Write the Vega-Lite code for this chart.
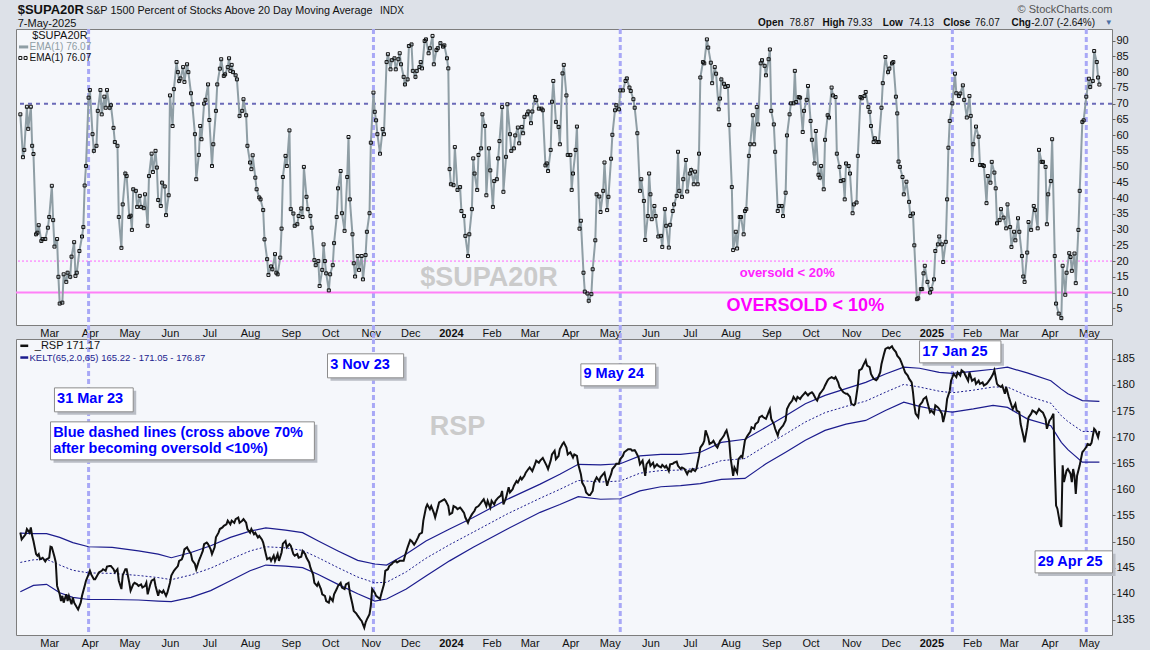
{
"$schema":"https://vega.github.io/schema/vega-lite/v6.json",
"background":"#dde1e8",
"padding":{"left":14,"top":3,"right":40,"bottom":20},
"spacing":14,
"bounds":"flush",
"config":{"font":"Liberation Sans","view":{"fill":"#f5f7fb","stroke":"#7d7d7d","strokeWidth":1},"axis":{"grid":false,"domain":false,"labelFontSize":11,"labelColor":"#111","tickColor":"#666"}},
"vconcat":[
{"width":1096,"height":296,
"data":{"format":{"parse":{"t":"date:'%Y-%j'"}},"values":[
{"t":"2023-38","v":66.6},{"t":"2023-40","v":53},{"t":"2023-41","v":55.3},{"t":"2023-43","v":69},{"t":"2023-44","v":62},{"t":"2023-46","v":69},{"t":"2023-47","v":56.6},{"t":"2023-48","v":54},{"t":"2023-50","v":28.5},{"t":"2023-51","v":29},{"t":"2023-52","v":31.4},{"t":"2023-54","v":26.4},{"t":"2023-55","v":27},{"t":"2023-57","v":27},{"t":"2023-59","v":30.6},{"t":"2023-60","v":34},{"t":"2023-62","v":43.9},{"t":"2023-63","v":33},{"t":"2023-64","v":24.6},{"t":"2023-66","v":27},{"t":"2023-67","v":15},{"t":"2023-68","v":6.5},{"t":"2023-70","v":6.8},{"t":"2023-71","v":15.8},{"t":"2023-73","v":13.4},{"t":"2023-74","v":16.3},{"t":"2023-76","v":15},{"t":"2023-77","v":21.4},{"t":"2023-79","v":26},{"t":"2023-80","v":15.3},{"t":"2023-81","v":16.3},{"t":"2023-83","v":23.2},{"t":"2023-85","v":27.8},{"t":"2023-86","v":30.8},{"t":"2023-87","v":44},{"t":"2023-88","v":50.2},{"t":"2023-90","v":71.9},{"t":"2023-91","v":74.3},{"t":"2023-93","v":60.3},{"t":"2023-94","v":55},{"t":"2023-96","v":56.6},{"t":"2023-97","v":67.7},{"t":"2023-99","v":74.3},{"t":"2023-100","v":66.6},{"t":"2023-102","v":72.2},{"t":"2023-103","v":68.7},{"t":"2023-104","v":74.3},{"t":"2023-106","v":68.7},{"t":"2023-107","v":69.5},{"t":"2023-109","v":62.3},{"t":"2023-110","v":57.8},{"t":"2023-112","v":56.6},{"t":"2023-113","v":34},{"t":"2023-115","v":24.2},{"t":"2023-116","v":38},{"t":"2023-118","v":47.8},{"t":"2023-119","v":47},{"t":"2023-121","v":34},{"t":"2023-122","v":34.4},{"t":"2023-123","v":29.9},{"t":"2023-124","v":42.8},{"t":"2023-126","v":42.3},{"t":"2023-127","v":37.2},{"t":"2023-129","v":40.7},{"t":"2023-130","v":37.2},{"t":"2023-132","v":36.8},{"t":"2023-133","v":41.2},{"t":"2023-135","v":31.2},{"t":"2023-136","v":47},{"t":"2023-138","v":54.1},{"t":"2023-139","v":48.3},{"t":"2023-141","v":55},{"t":"2023-142","v":49.7},{"t":"2023-143","v":39.4},{"t":"2023-145","v":37.5},{"t":"2023-146","v":44.9},{"t":"2023-148","v":43.7},{"t":"2023-149","v":34.6},{"t":"2023-151","v":40.9},{"t":"2023-152","v":72.6},{"t":"2023-154","v":62.9},{"t":"2023-155","v":74.6},{"t":"2023-157","v":83.2},{"t":"2023-158","v":80},{"t":"2023-159","v":77.2},{"t":"2023-160","v":78},{"t":"2023-162","v":81.6},{"t":"2023-163","v":76.9},{"t":"2023-165","v":82.5},{"t":"2023-166","v":80},{"t":"2023-168","v":73.3},{"t":"2023-169","v":69.8},{"t":"2023-171","v":60.3},{"t":"2023-172","v":46},{"t":"2023-174","v":53.7},{"t":"2023-175","v":62.9},{"t":"2023-176","v":58.7},{"t":"2023-178","v":70},{"t":"2023-179","v":71.2},{"t":"2023-181","v":76.1},{"t":"2023-182","v":64.8},{"t":"2023-184","v":50.2},{"t":"2023-185","v":57.1},{"t":"2023-187","v":67.7},{"t":"2023-188","v":76.1},{"t":"2023-190","v":81.1},{"t":"2023-191","v":84.1},{"t":"2023-193","v":78.8},{"t":"2023-194","v":79.3},{"t":"2023-196","v":81.6},{"t":"2023-197","v":84.4},{"t":"2023-198","v":80.4},{"t":"2023-199","v":82.3},{"t":"2023-200","v":80},{"t":"2023-202","v":79},{"t":"2023-203","v":77.7},{"t":"2023-205","v":66.1},{"t":"2023-207","v":67.7},{"t":"2023-208","v":71.4},{"t":"2023-210","v":66.3},{"t":"2023-211","v":56.6},{"t":"2023-213","v":51.3},{"t":"2023-214","v":49.2},{"t":"2023-215","v":53.6},{"t":"2023-217","v":46.5},{"t":"2023-218","v":42.8},{"t":"2023-220","v":40.2},{"t":"2023-221","v":39.6},{"t":"2023-223","v":36.2},{"t":"2023-224","v":26.9},{"t":"2023-226","v":20.6},{"t":"2023-227","v":15.6},{"t":"2023-229","v":18.3},{"t":"2023-230","v":17.4},{"t":"2023-232","v":22.2},{"t":"2023-233","v":16.3},{"t":"2023-234","v":15.8},{"t":"2023-236","v":21.1},{"t":"2023-237","v":30.3},{"t":"2023-238","v":46.7},{"t":"2023-240","v":53.4},{"t":"2023-241","v":50.2},{"t":"2023-243","v":61.5},{"t":"2023-244","v":36.5},{"t":"2023-246","v":35.1},{"t":"2023-247","v":31.2},{"t":"2023-249","v":31.7},{"t":"2023-250","v":34.3},{"t":"2023-252","v":36.7},{"t":"2023-253","v":34},{"t":"2023-254","v":49.9},{"t":"2023-256","v":40.4},{"t":"2023-257","v":36.5},{"t":"2023-259","v":34.3},{"t":"2023-260","v":30.6},{"t":"2023-262","v":20.3},{"t":"2023-263","v":18.7},{"t":"2023-265","v":20},{"t":"2023-266","v":12.1},{"t":"2023-268","v":17.2},{"t":"2023-269","v":25.3},{"t":"2023-270","v":20},{"t":"2023-271","v":16.1},{"t":"2023-273","v":10.7},{"t":"2023-274","v":15.8},{"t":"2023-276","v":18.7},{"t":"2023-277","v":25.7},{"t":"2023-279","v":34},{"t":"2023-280","v":43.1},{"t":"2023-282","v":48.6},{"t":"2023-283","v":35.2},{"t":"2023-285","v":29.6},{"t":"2023-287","v":46.7},{"t":"2023-288","v":59.4},{"t":"2023-289","v":39.6},{"t":"2023-291","v":28.5},{"t":"2023-292","v":19.3},{"t":"2023-293","v":15.1},{"t":"2023-295","v":21.6},{"t":"2023-296","v":17.2},{"t":"2023-298","v":21.6},{"t":"2023-299","v":14.2},{"t":"2023-301","v":21.9},{"t":"2023-302","v":29.3},{"t":"2023-304","v":35.2},{"t":"2023-305","v":57.6},{"t":"2023-307","v":73.5},{"t":"2023-308","v":67.4},{"t":"2023-309","v":64.7},{"t":"2023-310","v":60.3},
{"t":"2023-312","v":54.1},{"t":"2023-314","v":61.9},{"t":"2023-315","v":60.3},{"t":"2023-317","v":83.2},{"t":"2023-318","v":85.7},{"t":"2023-320","v":80.9},{"t":"2023-321","v":83.8},{"t":"2023-323","v":84.4},{"t":"2023-324","v":80.9},{"t":"2023-326","v":84.1},{"t":"2023-327","v":86},{"t":"2023-328","v":82.5},{"t":"2023-330","v":78.5},{"t":"2023-331","v":76.1},{"t":"2023-333","v":77.7},{"t":"2023-334","v":88.3},{"t":"2023-336","v":88.8},{"t":"2023-337","v":80.4},{"t":"2023-339","v":78.5},{"t":"2023-340","v":80.4},{"t":"2023-342","v":81.6},{"t":"2023-343","v":83.2},{"t":"2023-344","v":81.2},{"t":"2023-346","v":89.9},{"t":"2023-347","v":90.4},{"t":"2023-349","v":86},{"t":"2023-350","v":87.6},{"t":"2023-352","v":91.5},{"t":"2023-353","v":82.5},{"t":"2023-355","v":87},{"t":"2023-356","v":87.6},{"t":"2023-358","v":89.2},{"t":"2023-360","v":88.1},{"t":"2023-361","v":88.5},{"t":"2023-363","v":84.4},{"t":"2023-364","v":81.2},{"t":"2023-365","v":49.2},{"t":"2023-366","v":44.4},{"t":"2023-368","v":44.1},{"t":"2023-369","v":56.2},{"t":"2023-371","v":42.6},{"t":"2023-373","v":43.5},{"t":"2023-374","v":35.9},{"t":"2023-376","v":34.3},{"t":"2023-377","v":28},{"t":"2023-379","v":21.6},{"t":"2023-380","v":28.5},{"t":"2023-382","v":36.5},{"t":"2023-383","v":52.6},{"t":"2023-384","v":47.8},{"t":"2023-386","v":42.6},{"t":"2023-387","v":53.7},{"t":"2023-389","v":55.8},{"t":"2023-390","v":66.6},{"t":"2023-392","v":62.9},{"t":"2023-393","v":40.9},{"t":"2023-395","v":55.8},{"t":"2023-396","v":48.8},{"t":"2023-398","v":37.2},{"t":"2023-399","v":45.4},{"t":"2023-401","v":46},{"t":"2023-402","v":52.6},{"t":"2023-403","v":58.1},{"t":"2023-405","v":68.9},{"t":"2023-406","v":42},{"t":"2023-408","v":53.1},{"t":"2023-409","v":69.8},{"t":"2023-411","v":60.3},{"t":"2023-412","v":55},{"t":"2023-414","v":55.8},{"t":"2023-415","v":59.9},{"t":"2023-417","v":62.4},{"t":"2023-418","v":57.4},{"t":"2023-420","v":62.6},{"t":"2023-421","v":60.6},{"t":"2023-422","v":65.8},{"t":"2023-424","v":66.6},{"t":"2023-425","v":67.5},{"t":"2023-427","v":63.8},{"t":"2023-428","v":67.5},{"t":"2023-430","v":72.1},{"t":"2023-431","v":71.1},{"t":"2023-433","v":68.4},{"t":"2023-435","v":68.4},{"t":"2023-436","v":67.9},{"t":"2023-438","v":50.4},{"t":"2023-439","v":51},{"t":"2023-440","v":48.6},{"t":"2023-442","v":55.3},{"t":"2023-443","v":70.6},{"t":"2023-444","v":77.2},{"t":"2023-446","v":64.2},{"t":"2023-448","v":62.6},{"t":"2023-449","v":57.1},{"t":"2023-451","v":79.6},{"t":"2023-452","v":82.3},{"t":"2023-454","v":72.6},{"t":"2023-455","v":53.7},{"t":"2023-457","v":53.7},{"t":"2023-458","v":42.6},{"t":"2023-459","v":47.8},{"t":"2023-461","v":55.3},{"t":"2023-462","v":62.7},{"t":"2023-464","v":30.3},{"t":"2023-465","v":32.8},{"t":"2023-467","v":16.3},{"t":"2023-468","v":10.3},{"t":"2023-470","v":9.7},{"t":"2023-471","v":7.4},{"t":"2023-473","v":9.5},{"t":"2023-474","v":17.4},{"t":"2023-476","v":26.6},{"t":"2023-477","v":41.2},{"t":"2023-479","v":40.5},{"t":"2023-480","v":35.6},{"t":"2023-482","v":42.3},{"t":"2023-483","v":51.3},{"t":"2023-485","v":36.2},{"t":"2023-486","v":40.4},{"t":"2023-488","v":52.5},{"t":"2023-489","v":60.1},{"t":"2023-491","v":67.9},{"t":"2023-492","v":69.5},{"t":"2023-494","v":68.2},{"t":"2023-495","v":74.2},{"t":"2023-497","v":74.2},{"t":"2023-499","v":77.2},{"t":"2023-500","v":78},{"t":"2023-502","v":75.1},{"t":"2023-503","v":74},{"t":"2023-505","v":71.4},{"t":"2023-506","v":68.7},{"t":"2023-508","v":60.6},{"t":"2023-510","v":42.3},{"t":"2023-511","v":46},{"t":"2023-513","v":39.1},{"t":"2023-514","v":26.7},{"t":"2023-516","v":34.3},{"t":"2023-517","v":47.8},{"t":"2023-518","v":41.2},{"t":"2023-519","v":33.3},{"t":"2023-521","v":37.5},{"t":"2023-522","v":34.3},{"t":"2023-524","v":27.8},{"t":"2023-526","v":28},{"t":"2023-527","v":24.5},{"t":"2023-529","v":36.5},{"t":"2023-530","v":31.2},{"t":"2023-532","v":24.3},{"t":"2023-533","v":31.5},{"t":"2023-535","v":35.9},{"t":"2023-536","v":38},{"t":"2023-538","v":40.7},{"t":"2023-539","v":54.7},{"t":"2023-540","v":42.3},{"t":"2023-542","v":40.4},{"t":"2023-543","v":46},{"t":"2023-545","v":52.1},{"t":"2023-546","v":42.1},{"t":"2023-548","v":47.8},{"t":"2023-549","v":48.9},{"t":"2023-551","v":44.4},{"t":"2023-552","v":48.4},{"t":"2023-554","v":44.4},{"t":"2023-555","v":54.1},{"t":"2023-556","v":78.3},{"t":"2023-558","v":83.2},{"t":"2023-559","v":82.8},{"t":"2023-561","v":90.4},{"t":"2023-562","v":87.8},{"t":"2023-564","v":83},{"t":"2023-565","v":76.5},{"t":"2023-567","v":81.6},{"t":"2023-568","v":79.5},{"t":"2023-570","v":68.2},{"t":"2023-571","v":71.6},{"t":"2023-572","v":77.7},{"t":"2023-574","v":76.3},{"t":"2023-575","v":75.3},{"t":"2023-577","v":75.6},{"t":"2023-578","v":63.2},{"t":"2023-580","v":43.5},{"t":"2023-581","v":23.5},{"t":"2023-583","v":29.3},{"t":"2023-584","v":24},{"t":"2023-586","v":34},{"t":"2023-587","v":34},{"t":"2023-589","v":28.5},
{"t":"2023-590","v":35.9},{"t":"2023-591","v":36.5},{"t":"2023-593","v":53.4},{"t":"2023-594","v":57.1},{"t":"2023-596","v":66.3},{"t":"2023-597","v":57.1},{"t":"2023-599","v":68.9},{"t":"2023-600","v":63.4},{"t":"2023-602","v":82.8},{"t":"2023-603","v":83.8},{"t":"2023-605","v":82},{"t":"2023-606","v":79},{"t":"2023-608","v":84.1},{"t":"2023-609","v":87.2},{"t":"2023-610","v":67.7},{"t":"2023-612","v":63.4},{"t":"2023-613","v":54.7},{"t":"2023-615","v":35.9},{"t":"2023-616","v":37.5},{"t":"2023-618","v":37.5},{"t":"2023-619","v":34.3},{"t":"2023-621","v":41.7},{"t":"2023-622","v":59.9},{"t":"2023-624","v":66.6},{"t":"2023-625","v":70.1},{"t":"2023-627","v":70.1},{"t":"2023-628","v":80.4},{"t":"2023-629","v":70.5},{"t":"2023-631","v":72.1},{"t":"2023-632","v":71.9},{"t":"2023-634","v":61},{"t":"2023-635","v":67.7},{"t":"2023-637","v":71.2},{"t":"2023-638","v":75.6},{"t":"2023-640","v":64.5},{"t":"2023-641","v":58.5},{"t":"2023-643","v":51},{"t":"2023-644","v":61.3},{"t":"2023-646","v":47.4},{"t":"2023-647","v":46.5},{"t":"2023-648","v":50.2},{"t":"2023-650","v":42.8},{"t":"2023-651","v":58.5},{"t":"2023-653","v":66.3},{"t":"2023-654","v":65.6},{"t":"2023-656","v":75.1},{"t":"2023-657","v":72.6},{"t":"2023-659","v":72.1},{"t":"2023-660","v":54.1},{"t":"2023-662","v":49.9},{"t":"2023-663","v":45.4},{"t":"2023-665","v":45.7},{"t":"2023-666","v":39.6},{"t":"2023-667","v":51},{"t":"2023-669","v":50.2},{"t":"2023-670","v":47.8},{"t":"2023-672","v":35.2},{"t":"2023-673","v":38},{"t":"2023-675","v":38.6},{"t":"2023-676","v":53.4},{"t":"2023-678","v":72.1},{"t":"2023-679","v":71.7},{"t":"2023-681","v":72.4},{"t":"2023-682","v":73.7},{"t":"2023-684","v":68.9},{"t":"2023-685","v":67.4},{"t":"2023-686","v":62.9},{"t":"2023-688","v":57.8},{"t":"2023-689","v":59},{"t":"2023-691","v":57.8},{"t":"2023-692","v":57.8},{"t":"2023-694","v":68.7},{"t":"2023-695","v":76.5},{"t":"2023-697","v":84.8},{"t":"2023-699","v":80},{"t":"2023-700","v":81.1},{"t":"2023-702","v":82.8},{"t":"2023-703","v":83.2},{"t":"2023-705","v":72.2},{"t":"2023-706","v":66.9},{"t":"2023-707","v":51.6},{"t":"2023-708","v":49.9},{"t":"2023-710","v":46.7},{"t":"2023-711","v":41.2},{"t":"2023-713","v":45.2},{"t":"2023-715","v":38.8},{"t":"2023-716","v":34.3},{"t":"2023-718","v":35.1},{"t":"2023-719","v":25},{"t":"2023-721","v":7.9},{"t":"2023-722","v":8.2},{"t":"2023-724","v":11.1},{"t":"2023-725","v":11.1},{"t":"2023-726","v":16.1},{"t":"2023-727","v":18.5},{"t":"2023-729","v":13.4},{"t":"2023-731","v":10},{"t":"2023-732","v":11.1},{"t":"2023-734","v":14.2},{"t":"2023-735","v":23.2},{"t":"2023-737","v":25.3},{"t":"2023-738","v":27.8},{"t":"2023-740","v":25.3},{"t":"2023-741","v":19.7},{"t":"2023-743","v":26.1},{"t":"2023-744","v":39.6},{"t":"2023-745","v":56},{"t":"2023-746","v":64.5},{"t":"2023-748","v":70.1},{"t":"2023-750","v":79.5},{"t":"2023-751","v":73.3},{"t":"2023-753","v":72.4},{"t":"2023-754","v":73.2},{"t":"2023-756","v":75.8},{"t":"2023-757","v":71.2},{"t":"2023-759","v":65.6},{"t":"2023-761","v":72.4},{"t":"2023-762","v":66.1},{"t":"2023-763","v":52.1},{"t":"2023-764","v":57.1},{"t":"2023-766","v":62.7},{"t":"2023-768","v":59.5},{"t":"2023-769","v":50.5},{"t":"2023-771","v":50.5},{"t":"2023-772","v":50.2},{"t":"2023-774","v":38.4},{"t":"2023-775","v":47},{"t":"2023-777","v":44.9},{"t":"2023-778","v":51.5},{"t":"2023-780","v":48.1},{"t":"2023-781","v":43.1},{"t":"2023-782","v":32},{"t":"2023-784","v":33},{"t":"2023-785","v":36.5},{"t":"2023-787","v":33.8},{"t":"2023-789","v":30.4},{"t":"2023-790","v":38},{"t":"2023-792","v":30.8},{"t":"2023-793","v":24.5},{"t":"2023-795","v":29.3},{"t":"2023-796","v":26.6},{"t":"2023-798","v":33.6},{"t":"2023-799","v":29.3},{"t":"2023-801","v":21.6},{"t":"2023-802","v":15.1},{"t":"2023-803","v":13.4},{"t":"2023-805","v":22.7},{"t":"2023-806","v":32.4},{"t":"2023-808","v":29.9},{"t":"2023-810","v":37.5},{"t":"2023-811","v":36.2},{"t":"2023-813","v":30.4},{"t":"2023-814","v":55.3},{"t":"2023-816","v":51.5},{"t":"2023-817","v":51.5},{"t":"2023-819","v":49.9},{"t":"2023-820","v":31.7},{"t":"2023-821","v":41.2},{"t":"2023-823","v":45.4},{"t":"2023-824","v":58.7},{"t":"2023-826","v":21.6},{"t":"2023-827","v":6.5},{"t":"2023-829","v":3.3},{"t":"2023-831","v":1.9},{"t":"2023-832","v":18.5},{"t":"2023-834","v":9.3},{"t":"2023-835","v":16.3},{"t":"2023-837","v":22.5},{"t":"2023-838","v":21.3},{"t":"2023-839","v":16.9},{"t":"2023-841","v":22.4},{"t":"2023-842","v":13},{"t":"2023-844","v":29.9},{"t":"2023-845","v":42.3},{"t":"2023-847","v":64.2},{"t":"2023-848","v":64.7},{"t":"2023-850","v":72.2},{"t":"2023-852","v":77.9},{"t":"2023-853","v":75.3},{"t":"2023-855","v":77.2},{"t":"2023-856","v":86.7},{"t":"2023-858","v":83.2},{"t":"2023-859","v":78.3},{"t":"2023-860","v":76.07}
]},
"layer":[
{"data":{"values":[{}]},"mark":{"type":"rule","color":"#a8a8f6","strokeWidth":3,"strokeDash":[5,3]},"encoding":{"x":{"datum":{"year":2023,"month":3,"date":31},"type":"temporal"},"y":{"datum":93.7,"type":"quantitative"},"y2":{"datum":-4.7}}},
{"data":{"values":[{}]},"mark":{"type":"rule","color":"#a8a8f6","strokeWidth":3,"strokeDash":[5,3]},"encoding":{"x":{"datum":{"year":2023,"month":11,"date":3},"type":"temporal"},"y":{"datum":93.7,"type":"quantitative"},"y2":{"datum":-4.7}}},
{"data":{"values":[{}]},"mark":{"type":"rule","color":"#a8a8f6","strokeWidth":3,"strokeDash":[5,3]},"encoding":{"x":{"datum":{"year":2024,"month":5,"date":9},"type":"temporal"},"y":{"datum":93.7,"type":"quantitative"},"y2":{"datum":-4.7}}},
{"data":{"values":[{}]},"mark":{"type":"rule","color":"#a8a8f6","strokeWidth":3,"strokeDash":[5,3]},"encoding":{"x":{"datum":{"year":2025,"month":1,"date":17},"type":"temporal"},"y":{"datum":93.7,"type":"quantitative"},"y2":{"datum":-4.7}}},
{"data":{"values":[{}]},"mark":{"type":"rule","color":"#a8a8f6","strokeWidth":3,"strokeDash":[5,3]},"encoding":{"x":{"datum":{"year":2025,"month":4,"date":29},"type":"temporal"},"y":{"datum":93.7,"type":"quantitative"},"y2":{"datum":-4.7}}},
{"data":{"values":[{}]},"mark":{"type":"rule","color":"#6a6ab8","strokeWidth":2,"strokeDash":[4,4]},"encoding":{"y":{"datum":70,"type":"quantitative"}}},
{"data":{"values":[{}]},"mark":{"type":"rule","color":"#ff66ff","strokeWidth":1,"strokeDash":[2,2]},"encoding":{"y":{"datum":20,"type":"quantitative"}}},
{"data":{"values":[{}]},"mark":{"type":"rule","color":"#ff80f8","strokeWidth":2},"encoding":{"y":{"datum":10,"type":"quantitative"}}},
{"data":{"format":{"parse":{"t":"date:'%Y-%j'"}},"values":[{"t":"2023-395","v":14.5,"s":"$SUPA20R"}]},
 "mark":{"type":"text","fontSize":27,"fontWeight":"bold","color":"#cbcbcb","align":"center","baseline":"middle"},
 "encoding":{"x":{"field":"t","type":"temporal"},"y":{"field":"v","type":"quantitative"},"text":{"field":"s"}}},
{"data":{"format":{"parse":{"t":"date:'%Y-%j'"}},"values":[{"t":"2023-586","v":16.2,"s":"oversold < 20%"}]},
 "mark":{"type":"text","fontSize":13,"fontWeight":"bold","color":"#ff22ff","align":"left","baseline":"middle"},
 "encoding":{"x":{"field":"t","type":"temporal"},"y":{"field":"v","type":"quantitative"},"text":{"field":"s"}}},
{"data":{"format":{"parse":{"t":"date:'%Y-%j'"}},"values":[{"t":"2023-576","v":5.8,"s":"OVERSOLD < 10%"}]},
 "mark":{"type":"text","fontSize":18,"fontWeight":"bold","color":"#ff00ff","align":"left","baseline":"middle"},
 "encoding":{"x":{"field":"t","type":"temporal"},"y":{"field":"v","type":"quantitative"},"text":{"field":"s"}}},
{"mark":{"type":"line","color":"#8f9ea5","strokeWidth":2},
 "encoding":{
  "x":{"field":"t","type":"temporal","scale":{"domain":[{"year":2023,"month":2,"date":3,"hours":16,"minutes":48},{"year":2025,"month":5,"date":18,"hours":14,"minutes":24}]},
   "axis":{"orient":"bottom","title":null,"ticks":false,"domain":false,"labelPadding":2,"tickCount":{"interval":"month","step":1},"labelExpr":"month(datum.value)==0 ? timeFormat(datum.value,'%Y') : timeFormat(datum.value,'%b')","labelFontWeight":{"condition":{"test":"month(datum.value)==0","value":"bold"},"value":"normal"},"labelOverlap":false,"labelFlush":false,"labelBound":false}},
  "y":{"field":"v","type":"quantitative","scale":{"domain":[-0.3,93.7],"nice":false,"zero":false},
   "axis":{"orient":"right","title":null,"values":[5,10,15,20,25,30,35,40,45,50,55,60,65,70,75,80,85,90],"tickCount":40,"labelOverlap":false,"labelBound":false,"labelFlush":false,"tickSize":3,"labelPadding":1,"domain":false}}}},
{"mark":{"type":"point","shape":"square","size":9,"filled":false,"stroke":"#111","strokeWidth":1,"opacity":1},
 "encoding":{"x":{"field":"t","type":"temporal"},"y":{"field":"v","type":"quantitative"}}},
{"data":{"format":{"parse":{"t":"date:'%Y-%j'","t2":"date:'%Y-%j'"}},"values":[{"t":"2023-37","t2":"2023-44","v":88}]},
 "mark":{"type":"rule","color":"#8f9ea5","strokeWidth":3},
 "encoding":{"x":{"field":"t","type":"temporal"},"x2":{"field":"t2"},"y":{"field":"v","type":"quantitative"}}},
{"data":{"format":{"parse":{"t":"date:'%Y-%j'"}},"values":[{"t":"2023-38","v":84.5},{"t":"2023-42","v":84.5}]},
 "mark":{"type":"point","shape":"square","size":9,"filled":false,"stroke":"#111","strokeWidth":1,"opacity":1},
 "encoding":{"x":{"field":"t","type":"temporal"},"y":{"field":"v","type":"quantitative"}}},
{"data":{"format":{"parse":{"t":"date:'%Y-%j'"}},"values":[{"t":"2023-47","v":91.5,"s":"$SUPA20R"}]},
 "mark":{"type":"text","fontSize":11,"color":"#111","align":"left","baseline":"middle"},
 "encoding":{"x":{"field":"t","type":"temporal"},"y":{"field":"v","type":"quantitative"},"text":{"field":"s"}}},
{"data":{"format":{"parse":{"t":"date:'%Y-%j'"}},"values":[{"t":"2023-45","v":88,"s":"EMA(1) 76.07"}]},
 "mark":{"type":"text","fontSize":10,"color":"#8f9ea5","align":"left","baseline":"middle"},
 "encoding":{"x":{"field":"t","type":"temporal"},"y":{"field":"v","type":"quantitative"},"text":{"field":"s"}}},
{"data":{"format":{"parse":{"t":"date:'%Y-%j'"}},"values":[{"t":"2023-45","v":84.5,"s":"EMA(1) 76.07"}]},
 "mark":{"type":"text","fontSize":10,"color":"#111","align":"left","baseline":"middle"},
 "encoding":{"x":{"field":"t","type":"temporal"},"y":{"field":"v","type":"quantitative"},"text":{"field":"s"}}},
{"data":{"format":{"parse":{"t":"date:'%Y-%j'"}},"values":[{"t":"2023-36","v":99.6,"s":"$SUPA20R"}]},
 "mark":{"type":"text","fontSize":13,"fontWeight":"bold","color":"#111","align":"left","baseline":"middle"},
 "encoding":{"x":{"field":"t","type":"temporal"},"y":{"field":"v","type":"quantitative"},"text":{"field":"s"}}},
{"data":{"format":{"parse":{"t":"date:'%Y-%j'"}},"values":[{"t":"2023-88","v":99.4,"s":"S&P 1500 Percent of Stocks Above 20 Day Moving Average"}]},
 "mark":{"type":"text","fontSize":10.8,"color":"#111","align":"left","baseline":"middle"},
 "encoding":{"x":{"field":"t","type":"temporal"},"y":{"field":"v","type":"quantitative"},"text":{"field":"s"}}},
{"data":{"format":{"parse":{"t":"date:'%Y-%j'"}},"values":[{"t":"2023-36","v":95.3,"s":"7-May-2025"}]},
 "mark":{"type":"text","fontSize":11,"color":"#111","align":"left","baseline":"middle"},
 "encoding":{"x":{"field":"t","type":"temporal"},"y":{"field":"v","type":"quantitative"},"text":{"field":"s"}}},
{"data":{"format":{"parse":{"t":"date:'%Y-%j'"}},"values":[{"t":"2023-624","v":95.6,"s":"78.87"},{"t":"2023-668","v":95.6,"s":"79.33"},{"t":"2023-715","v":95.6,"s":"74.13"},{"t":"2023-765","v":95.6,"s":"76.07"},{"t":"2023-808","v":95.6,"s":"-2.07 (-2.64%)"}]},
 "mark":{"type":"text","fontSize":10,"color":"#111","align":"left","baseline":"middle"},
 "encoding":{"x":{"field":"t","type":"temporal"},"y":{"field":"v","type":"quantitative"},"text":{"field":"s"}}},
{"data":{"format":{"parse":{"t":"date:'%Y-%j'"}},"values":[{"t":"2023-600","v":95.6,"s":"Open"},{"t":"2023-649","v":95.6,"s":"High"},{"t":"2023-695","v":95.6,"s":"Low"},{"t":"2023-741","v":95.6,"s":"Close"},{"t":"2023-793","v":95.6,"s":"Chg"}]},
 "mark":{"type":"text","fontSize":10,"fontWeight":"bold","color":"#111","align":"left","baseline":"middle"},
 "encoding":{"x":{"field":"t","type":"temporal"},"y":{"field":"v","type":"quantitative"},"text":{"field":"s"}}},
{"data":{"format":{"parse":{"t":"date:'%Y-%j'"}},"values":[{"t":"2023-312","v":99.4,"s":"INDX"}]},
 "mark":{"type":"text","fontSize":10,"color":"#111","align":"left","baseline":"middle"},
 "encoding":{"x":{"field":"t","type":"temporal"},"y":{"field":"v","type":"quantitative"},"text":{"field":"s"}}},
{"data":{"format":{"parse":{"t":"date:'%Y-%j'"}},"values":[{"t":"2023-870","v":99.6,"s":"© StockCharts.com"}]},
 "mark":{"type":"text","fontSize":11,"color":"#555","align":"right","baseline":"middle"},
 "encoding":{"x":{"field":"t","type":"temporal"},"y":{"field":"v","type":"quantitative"},"text":{"field":"s"}}},
{"data":{"format":{"parse":{"t":"date:'%Y-%j'"}},"values":[{"t":"2023-867","v":95.6,"s":"▼"}]},
 "mark":{"type":"text","fontSize":8,"color":"#4a6fa5","align":"center","baseline":"middle"},
 "encoding":{"x":{"field":"t","type":"temporal"},"y":{"field":"v","type":"quantitative"},"text":{"field":"s"}}}
]},
{"width":1096,"height":296,
"data":{"format":{"parse":{"t":"date:'%Y-%j'"}},"values":[
{"t":"2023-38","v":151.7},{"t":"2023-39","v":150.4},{"t":"2023-42","v":151.4},{"t":"2023-43","v":152.4},{"t":"2023-45","v":151.7},{"t":"2023-46","v":152.7},{"t":"2023-47","v":151.1},{"t":"2023-48","v":150.1},{"t":"2023-50","v":147.6},{"t":"2023-51","v":147.3},{"t":"2023-52","v":147.6},{"t":"2023-53","v":146.6},{"t":"2023-55","v":146.9},{"t":"2023-57","v":146.2},{"t":"2023-58","v":146.6},{"t":"2023-60","v":146.9},{"t":"2023-61","v":149},{"t":"2023-62","v":148.9},{"t":"2023-64","v":147.1},{"t":"2023-65","v":146},{"t":"2023-66","v":141.5},{"t":"2023-68","v":139.9},{"t":"2023-69","v":138.6},{"t":"2023-70","v":139.6},{"t":"2023-71","v":138.3},{"t":"2023-73","v":139.9},{"t":"2023-74","v":138.6},{"t":"2023-75","v":139.6},{"t":"2023-77","v":138},{"t":"2023-78","v":139.3},{"t":"2023-79","v":138.3},{"t":"2023-81","v":137.4},{"t":"2023-82","v":137},{"t":"2023-84","v":138.3},{"t":"2023-85","v":139.6},{"t":"2023-87","v":141.5},{"t":"2023-88","v":142.5},{"t":"2023-90","v":143.7},{"t":"2023-91","v":144.4},{"t":"2023-92","v":143.7},{"t":"2023-94","v":142.8},{"t":"2023-95","v":142.8},{"t":"2023-97","v":143.7},{"t":"2023-98","v":144.1},{"t":"2023-100","v":144.4},{"t":"2023-101","v":144.7},{"t":"2023-103","v":144.4},{"t":"2023-104","v":145.2},{"t":"2023-106","v":145.3},{"t":"2023-107","v":145.3},{"t":"2023-109","v":144.7},{"t":"2023-110","v":144.1},{"t":"2023-112","v":144.7},{"t":"2023-113","v":142.5},{"t":"2023-115","v":140.9},{"t":"2023-116","v":143.5},{"t":"2023-118","v":144.7},{"t":"2023-119","v":144.7},{"t":"2023-121","v":142.1},{"t":"2023-122","v":140.6},{"t":"2023-124","v":141.8},{"t":"2023-125","v":142.1},{"t":"2023-127","v":141.8},{"t":"2023-128","v":141.5},{"t":"2023-130","v":141.8},{"t":"2023-131","v":141.2},{"t":"2023-133","v":141.5},{"t":"2023-134","v":142.1},{"t":"2023-135","v":139.9},{"t":"2023-137","v":141.8},{"t":"2023-138","v":142.5},{"t":"2023-140","v":142.8},{"t":"2023-141","v":141.5},{"t":"2023-143","v":139.6},{"t":"2023-144","v":140.6},{"t":"2023-146","v":140.2},{"t":"2023-147","v":140.6},{"t":"2023-149","v":139.6},{"t":"2023-150","v":140.2},{"t":"2023-152","v":142.1},{"t":"2023-153","v":143.5},{"t":"2023-155","v":144.4},{"t":"2023-156","v":144.7},{"t":"2023-158","v":145.3},{"t":"2023-159","v":146.3},{"t":"2023-161","v":146.6},{"t":"2023-162","v":147.3},{"t":"2023-163","v":148.5},{"t":"2023-165","v":148.9},{"t":"2023-166","v":148.4},{"t":"2023-168","v":147.6},{"t":"2023-169","v":146.4},{"t":"2023-171","v":145.7},{"t":"2023-172","v":144.7},{"t":"2023-174","v":146.3},{"t":"2023-175","v":146.9},{"t":"2023-177","v":148.2},{"t":"2023-178","v":149.5},{"t":"2023-180","v":149.8},{"t":"2023-181","v":149.5},{"t":"2023-183","v":148.5},{"t":"2023-184","v":147.6},{"t":"2023-186","v":148.9},{"t":"2023-187","v":150.8},{"t":"2023-189","v":151.7},{"t":"2023-190","v":152.4},{"t":"2023-192","v":152.7},{"t":"2023-193","v":153},{"t":"2023-195","v":153.3},{"t":"2023-196","v":154},{"t":"2023-198","v":153.3},{"t":"2023-199","v":154},{"t":"2023-201","v":153.6},{"t":"2023-202","v":154.3},{"t":"2023-204","v":154.6},{"t":"2023-205","v":153.6},{"t":"2023-207","v":154},{"t":"2023-208","v":154.3},{"t":"2023-210","v":153.6},{"t":"2023-211","v":152.4},{"t":"2023-213","v":151.7},{"t":"2023-214","v":152.4},{"t":"2023-216","v":151.4},{"t":"2023-217","v":151.7},{"t":"2023-219","v":150.8},{"t":"2023-220","v":151.1},{"t":"2023-222","v":150.4},{"t":"2023-223","v":149.8},{"t":"2023-225","v":147.6},{"t":"2023-226","v":146.6},{"t":"2023-228","v":146.9},{"t":"2023-229","v":146.3},{"t":"2023-231","v":147.3},{"t":"2023-232","v":146.3},{"t":"2023-234","v":147.6},{"t":"2023-235","v":146.3},{"t":"2023-237","v":147.9},{"t":"2023-238","v":149.6},{"t":"2023-240","v":150.1},{"t":"2023-241","v":148.9},{"t":"2023-243","v":149.5},{"t":"2023-244","v":149.2},{"t":"2023-246","v":147.6},{"t":"2023-247","v":147.3},{"t":"2023-249","v":147.6},{"t":"2023-250","v":146.9},{"t":"2023-252","v":147.1},{"t":"2023-253","v":148.2},{"t":"2023-255","v":147.6},{"t":"2023-256","v":146.9},{"t":"2023-258","v":146},{"t":"2023-259","v":145},{"t":"2023-261","v":143.7},{"t":"2023-262","v":142.1},{"t":"2023-264","v":141.5},{"t":"2023-265","v":142.1},{"t":"2023-267","v":140.9},{"t":"2023-268","v":139.9},{"t":"2023-270","v":139.6},{"t":"2023-271","v":138.6},{"t":"2023-273","v":138.3},{"t":"2023-274","v":139.3},{"t":"2023-276","v":138.6},{"t":"2023-277","v":139.9},{"t":"2023-279","v":140.9},{"t":"2023-280","v":141.5},{"t":"2023-282","v":142.1},{"t":"2023-283","v":141.2},{"t":"2023-285","v":140.9},{"t":"2023-286","v":141.8},{"t":"2023-288","v":142.1},{"t":"2023-289","v":140.2},{"t":"2023-291","v":138},{"t":"2023-292","v":136.7},{"t":"2023-294","v":136.2},{"t":"2023-295","v":135.8},{"t":"2023-297","v":135.1},{"t":"2023-298","v":134.8},{"t":"2023-300","v":133.5},{"t":"2023-301","v":134.5},{"t":"2023-302","v":135.1},{"t":"2023-304","v":136.1},{"t":"2023-305","v":137.7},{"t":"2023-306","v":140.9},{"t":"2023-308","v":140.2},{"t":"2023-309","v":139.6},
{"t":"2023-312","v":139},{"t":"2023-313","v":140},{"t":"2023-315","v":141.8},{"t":"2023-316","v":144.4},{"t":"2023-318","v":144.7},{"t":"2023-319","v":145.3},{"t":"2023-321","v":145.7},{"t":"2023-322","v":146},{"t":"2023-324","v":146.3},{"t":"2023-325","v":146},{"t":"2023-327","v":146.3},{"t":"2023-328","v":146.3},{"t":"2023-330","v":146.3},{"t":"2023-331","v":147.3},{"t":"2023-333","v":148.9},{"t":"2023-335","v":150.3},{"t":"2023-336","v":150.1},{"t":"2023-338","v":149.4},{"t":"2023-339","v":149.8},{"t":"2023-341","v":150.8},{"t":"2023-342","v":151.4},{"t":"2023-344","v":151.7},{"t":"2023-345","v":154},{"t":"2023-347","v":156.5},{"t":"2023-348","v":157.1},{"t":"2023-350","v":156.2},{"t":"2023-351","v":156.8},{"t":"2023-353","v":155.5},{"t":"2023-354","v":154.6},{"t":"2023-356","v":156.5},{"t":"2023-357","v":157.5},{"t":"2023-359","v":157.8},{"t":"2023-361","v":158.1},{"t":"2023-362","v":157.8},{"t":"2023-364","v":156.8},{"t":"2023-365","v":155.2},{"t":"2023-367","v":155.5},{"t":"2023-368","v":156.8},{"t":"2023-370","v":156.5},{"t":"2023-371","v":156.2},{"t":"2023-373","v":156.5},{"t":"2023-374","v":156.2},{"t":"2023-376","v":155.5},{"t":"2023-377","v":154.6},{"t":"2023-379","v":153.6},{"t":"2023-380","v":154.3},{"t":"2023-382","v":155.2},{"t":"2023-384","v":155.9},{"t":"2023-385","v":156.5},{"t":"2023-387","v":156.8},{"t":"2023-388","v":157.1},{"t":"2023-390","v":157.8},{"t":"2023-391","v":158.1},{"t":"2023-393","v":156.8},{"t":"2023-394","v":157.8},{"t":"2023-396","v":156.5},{"t":"2023-397","v":157.8},{"t":"2023-399","v":157.1},{"t":"2023-400","v":157.8},{"t":"2023-402","v":158.4},{"t":"2023-404","v":158.8},{"t":"2023-405","v":159.7},{"t":"2023-406","v":157.1},{"t":"2023-408","v":158.4},{"t":"2023-410","v":160.4},{"t":"2023-411","v":159.4},{"t":"2023-413","v":160},{"t":"2023-414","v":160.7},{"t":"2023-416","v":161.6},{"t":"2023-417","v":161.3},{"t":"2023-419","v":162.3},{"t":"2023-420","v":161.9},{"t":"2023-422","v":162.6},{"t":"2023-423","v":163.2},{"t":"2023-425","v":163.9},{"t":"2023-426","v":164.2},{"t":"2023-428","v":163.5},{"t":"2023-430","v":164.8},{"t":"2023-431","v":165.5},{"t":"2023-433","v":165.1},{"t":"2023-434","v":165.5},{"t":"2023-436","v":166},{"t":"2023-437","v":165.5},{"t":"2023-439","v":164.5},{"t":"2023-440","v":163.9},{"t":"2023-442","v":165.5},{"t":"2023-443","v":166.7},{"t":"2023-445","v":167.4},{"t":"2023-446","v":165.8},{"t":"2023-448","v":166.4},{"t":"2023-449","v":167.7},{"t":"2023-451","v":168.7},{"t":"2023-452","v":169},{"t":"2023-454","v":168},{"t":"2023-455","v":166.7},{"t":"2023-457","v":167.1},{"t":"2023-459","v":166.1},{"t":"2023-460","v":166.7},{"t":"2023-462","v":166.4},{"t":"2023-463","v":164.8},{"t":"2023-465","v":162.9},{"t":"2023-466","v":161.3},{"t":"2023-468","v":160.4},{"t":"2023-469","v":159.4},{"t":"2023-471","v":158.9},{"t":"2023-472","v":158.9},{"t":"2023-474","v":159.7},{"t":"2023-475","v":161.3},{"t":"2023-477","v":162.3},{"t":"2023-479","v":161.6},{"t":"2023-480","v":162.3},{"t":"2023-482","v":162.9},{"t":"2023-483","v":163.2},{"t":"2023-485","v":160.7},{"t":"2023-486","v":161.6},{"t":"2023-488","v":162.9},{"t":"2023-489","v":163.9},{"t":"2023-491","v":164.5},{"t":"2023-492","v":164.9},{"t":"2023-494","v":164.9},{"t":"2023-495","v":165.8},{"t":"2023-497","v":166.4},{"t":"2023-498","v":167.1},{"t":"2023-500","v":167.5},{"t":"2023-501","v":167.7},{"t":"2023-503","v":167.7},{"t":"2023-504","v":167.4},{"t":"2023-506","v":167.5},{"t":"2023-507","v":167.1},{"t":"2023-509","v":166.1},{"t":"2023-510","v":164.8},{"t":"2023-512","v":165.5},{"t":"2023-514","v":162.6},{"t":"2023-515","v":164.8},{"t":"2023-517","v":165.5},{"t":"2023-518","v":164.5},{"t":"2023-520","v":165.1},{"t":"2023-521","v":164.2},{"t":"2023-523","v":164.8},{"t":"2023-524","v":164.5},{"t":"2023-526","v":164.2},{"t":"2023-527","v":164.7},{"t":"2023-529","v":164.2},{"t":"2023-530","v":164.5},{"t":"2023-532","v":163.5},{"t":"2023-533","v":164.8},{"t":"2023-535","v":164.9},{"t":"2023-536","v":165.1},{"t":"2023-538","v":165.3},{"t":"2023-539","v":164.5},{"t":"2023-541","v":163.9},{"t":"2023-542","v":164.2},{"t":"2023-544","v":163.9},{"t":"2023-546","v":162.9},{"t":"2023-547","v":163.5},{"t":"2023-549","v":163.4},{"t":"2023-550","v":163.9},{"t":"2023-552","v":163.5},{"t":"2023-553","v":163.9},{"t":"2023-555","v":166.4},{"t":"2023-556","v":168},{"t":"2023-558","v":168.7},{"t":"2023-559","v":169.3},{"t":"2023-560","v":171.3},{"t":"2023-562","v":169.9},{"t":"2023-563","v":168.7},{"t":"2023-565","v":169},{"t":"2023-566","v":169.3},{"t":"2023-568","v":168.3},{"t":"2023-569","v":168},{"t":"2023-571","v":169.3},{"t":"2023-572","v":169.6},{"t":"2023-574","v":170.3},{"t":"2023-575","v":170.9},{"t":"2023-576","v":171.3},{"t":"2023-578","v":169.3},{"t":"2023-579","v":166.1},{"t":"2023-581","v":162.6},{"t":"2023-582","v":164.2},{"t":"2023-584","v":163.2},{"t":"2023-585","v":165.8},{"t":"2023-587","v":166.4},{"t":"2023-588","v":166.1},
{"t":"2023-590","v":169.4},{"t":"2023-592","v":170.3},{"t":"2023-594","v":171},{"t":"2023-595","v":171.9},{"t":"2023-597","v":171.6},{"t":"2023-598","v":172.5},{"t":"2023-600","v":172.9},{"t":"2023-601","v":173.8},{"t":"2023-603","v":174.1},{"t":"2023-604","v":173.8},{"t":"2023-606","v":173.5},{"t":"2023-607","v":174.1},{"t":"2023-608","v":174.8},{"t":"2023-609","v":175.4},{"t":"2023-610","v":173.5},{"t":"2023-612","v":172.5},{"t":"2023-613","v":171.6},{"t":"2023-615","v":170.3},{"t":"2023-616","v":171.3},{"t":"2023-618","v":171.9},{"t":"2023-619","v":172.2},{"t":"2023-621","v":173.2},{"t":"2023-622","v":175.4},{"t":"2023-624","v":176.4},{"t":"2023-626","v":177},{"t":"2023-627","v":177.7},{"t":"2023-629","v":177},{"t":"2023-630","v":177.7},{"t":"2023-632","v":177.3},{"t":"2023-633","v":177.7},{"t":"2023-635","v":178.3},{"t":"2023-636","v":178.6},{"t":"2023-638","v":178},{"t":"2023-639","v":178.3},{"t":"2023-641","v":178.6},{"t":"2023-642","v":178.3},{"t":"2023-644","v":177.3},{"t":"2023-645","v":177},{"t":"2023-647","v":178.3},{"t":"2023-648","v":178.6},{"t":"2023-650","v":179.3},{"t":"2023-651","v":179.9},{"t":"2023-653","v":180.9},{"t":"2023-654","v":181.2},{"t":"2023-656","v":181.5},{"t":"2023-658","v":181.2},{"t":"2023-659","v":181.5},{"t":"2023-661","v":180.5},{"t":"2023-662","v":179.6},{"t":"2023-664","v":178.9},{"t":"2023-665","v":178.6},{"t":"2023-667","v":178.3},{"t":"2023-668","v":178.3},{"t":"2023-670","v":177.7},{"t":"2023-671","v":176.4},{"t":"2023-673","v":176.1},{"t":"2023-674","v":176.4},{"t":"2023-676","v":179.9},{"t":"2023-677","v":182.8},{"t":"2023-679","v":183.1},{"t":"2023-680","v":183.7},{"t":"2023-682","v":184.7},{"t":"2023-683","v":183.7},{"t":"2023-685","v":183.4},{"t":"2023-686","v":182.1},{"t":"2023-688","v":181.2},{"t":"2023-690","v":180.9},{"t":"2023-691","v":181.2},{"t":"2023-693","v":182.4},{"t":"2023-694","v":184},{"t":"2023-696","v":186},{"t":"2023-697","v":186.9},{"t":"2023-699","v":187.2},{"t":"2023-700","v":187},{"t":"2023-702","v":187.4},{"t":"2023-703","v":186.9},{"t":"2023-705","v":186.3},{"t":"2023-706","v":185.6},{"t":"2023-708","v":185},{"t":"2023-709","v":184.4},{"t":"2023-711","v":183.1},{"t":"2023-712","v":182.4},{"t":"2023-714","v":181.8},{"t":"2023-715","v":181.2},{"t":"2023-717","v":180.5},{"t":"2023-718","v":178.6},{"t":"2023-719","v":176.1},{"t":"2023-720","v":174.5},{"t":"2023-722","v":173.8},{"t":"2023-723","v":176.1},{"t":"2023-725","v":176.7},{"t":"2023-726","v":177.3},{"t":"2023-728","v":177.7},{"t":"2023-729","v":176.7},{"t":"2023-731","v":174.8},{"t":"2023-732","v":175.1},{"t":"2023-734","v":174.5},{"t":"2023-735","v":176.1},{"t":"2023-737","v":175.7},{"t":"2023-738","v":175.4},{"t":"2023-740","v":174.5},{"t":"2023-741","v":172.9},{"t":"2023-743","v":175.1},{"t":"2023-744","v":177.3},{"t":"2023-746","v":178.9},{"t":"2023-747","v":180.8},{"t":"2023-749","v":182.1},{"t":"2023-751","v":181.5},{"t":"2023-752","v":182.4},{"t":"2023-754","v":181.8},{"t":"2023-755","v":182.8},{"t":"2023-757","v":182.4},{"t":"2023-758","v":181.8},{"t":"2023-760","v":180.8},{"t":"2023-761","v":182.4},{"t":"2023-763","v":180.8},{"t":"2023-765","v":181.2},{"t":"2023-766","v":180.2},{"t":"2023-768","v":180.8},{"t":"2023-769","v":180.2},{"t":"2023-771","v":180.5},{"t":"2023-772","v":179.9},{"t":"2023-774","v":180.2},{"t":"2023-775","v":180.5},{"t":"2023-777","v":181.2},{"t":"2023-779","v":182.1},{"t":"2023-780","v":182.8},{"t":"2023-782","v":180.2},{"t":"2023-783","v":179.9},{"t":"2023-785","v":179.6},{"t":"2023-786","v":179.9},{"t":"2023-788","v":178.3},{"t":"2023-789","v":179.6},{"t":"2023-791","v":177.7},{"t":"2023-793","v":176.1},{"t":"2023-794","v":175.4},{"t":"2023-796","v":176.4},{"t":"2023-797","v":175.1},{"t":"2023-799","v":174.8},{"t":"2023-800","v":172.5},{"t":"2023-802","v":170.3},{"t":"2023-803","v":169},{"t":"2023-805","v":171.9},{"t":"2023-806","v":173.8},{"t":"2023-808","v":174.5},{"t":"2023-809","v":175.1},{"t":"2023-811","v":174.8},{"t":"2023-812","v":174.5},{"t":"2023-814","v":175.4},{"t":"2023-815","v":175.1},{"t":"2023-817","v":174.7},{"t":"2023-819","v":173.5},{"t":"2023-820","v":171.6},{"t":"2023-822","v":173.2},{"t":"2023-823","v":173.5},{"t":"2023-825","v":174.5},{"t":"2023-826","v":164.6},{"t":"2023-827","v":156.9},{"t":"2023-828","v":156.3},{"t":"2023-830","v":153.4},{"t":"2023-831","v":152.8},{"t":"2023-832","v":164.6},{"t":"2023-833","v":161.4},{"t":"2023-835","v":163.6},{"t":"2023-836","v":163.9},{"t":"2023-838","v":163},{"t":"2023-839","v":161.4},{"t":"2023-840","v":163.9},{"t":"2023-841","v":162.6},{"t":"2023-842","v":159.1},{"t":"2023-843","v":162.6},{"t":"2023-845","v":164.6},{"t":"2023-847","v":167.1},{"t":"2023-848","v":167.4},{"t":"2023-850","v":168.1},{"t":"2023-851","v":168.7},{"t":"2023-853","v":168.5},{"t":"2023-854","v":168.9},{"t":"2023-856","v":171.6},{"t":"2023-857","v":171.3},{"t":"2023-859","v":170},{"t":"2023-860","v":171.17}
]},
"layer":[
{"data":{"values":[{}]},"mark":{"type":"rule","color":"#a8a8f6","strokeWidth":3,"strokeDash":[5,3]},"encoding":{"x":{"datum":{"year":2023,"month":3,"date":31},"type":"temporal"},"y":{"datum":188.8,"type":"quantitative"},"y2":{"datum":132.1}}},
{"data":{"values":[{}]},"mark":{"type":"rule","color":"#a8a8f6","strokeWidth":3,"strokeDash":[5,3]},"encoding":{"x":{"datum":{"year":2023,"month":11,"date":3},"type":"temporal"},"y":{"datum":188.8,"type":"quantitative"},"y2":{"datum":132.1}}},
{"data":{"values":[{}]},"mark":{"type":"rule","color":"#a8a8f6","strokeWidth":3,"strokeDash":[5,3]},"encoding":{"x":{"datum":{"year":2024,"month":5,"date":9},"type":"temporal"},"y":{"datum":188.8,"type":"quantitative"},"y2":{"datum":132.1}}},
{"data":{"values":[{}]},"mark":{"type":"rule","color":"#a8a8f6","strokeWidth":3,"strokeDash":[5,3]},"encoding":{"x":{"datum":{"year":2025,"month":1,"date":17},"type":"temporal"},"y":{"datum":188.8,"type":"quantitative"},"y2":{"datum":132.1}}},
{"data":{"values":[{}]},"mark":{"type":"rule","color":"#a8a8f6","strokeWidth":3,"strokeDash":[5,3]},"encoding":{"x":{"datum":{"year":2025,"month":4,"date":29},"type":"temporal"},"y":{"datum":188.8,"type":"quantitative"},"y2":{"datum":132.1}}},
{"data":{"format":{"parse":{"t":"date:'%Y-%j'"}},"values":[{"t":"2023-371","v":171.9,"s":"RSP"}]},
 "mark":{"type":"text","fontSize":27,"fontWeight":"bold","color":"#cbcbcb","align":"center","baseline":"middle"},
 "encoding":{"x":{"field":"t","type":"temporal"},"y":{"field":"v","type":"quantitative"},"text":{"field":"s"}}},
{"data":{"format":{"parse":{"t":"date:'%Y-%j'"}},"values":[
{"t":"2023-38","u":151.6,"m":146.0,"l":140.4},{"t":"2023-48","u":151.5,"m":146.5,"l":141.6},{"t":"2023-58","u":151.5,"m":146.6,"l":141.8},{"t":"2023-68","u":150.8,"m":145.5,"l":140.2},{"t":"2023-78","u":149.8,"m":144.5,"l":139.3},{"t":"2023-90","u":149.0,"m":144.0,"l":138.9},{"t":"2023-108","u":148.9,"m":143.9,"l":138.9},{"t":"2023-128","u":148.2,"m":143.5,"l":138.8},{"t":"2023-143","u":147.6,"m":143.1,"l":138.6},{"t":"2023-153","u":146.9,"m":142.7,"l":138.5},{"t":"2023-168","u":147.9,"m":143.6,"l":139.3},{"t":"2023-183","u":149.2,"m":144.9,"l":140.6},{"t":"2023-198","u":150.8,"m":146.6,"l":142.5},{"t":"2023-213","u":152.0,"m":148.2,"l":144.4},{"t":"2023-225","u":152.6,"m":149.0,"l":145.5},{"t":"2023-240","u":152.2,"m":148.8,"l":145.3},{"t":"2023-253","u":151.7,"m":148.3,"l":145.0},{"t":"2023-265","u":150.1,"m":146.9,"l":143.7},{"t":"2023-280","u":148.2,"m":145.0,"l":141.8},{"t":"2023-295","u":146.4,"m":143.2,"l":140.0},{"t":"2023-308","u":145.7,"m":142.1,"l":138.6},{"t":"2023-317","u":145.5,"m":142.2,"l":139.0},{"t":"2023-332","u":147.6,"m":144.2,"l":140.9},{"t":"2023-347","u":150.1,"m":146.8,"l":143.4},{"t":"2023-365","u":152.4,"m":149.4,"l":146.3},{"t":"2023-383","u":154.6,"m":151.8,"l":148.9},{"t":"2023-409","u":158.1,"m":155.3,"l":152.4},{"t":"2023-434","u":161.0,"m":158.3,"l":155.6},{"t":"2023-449","u":162.9,"m":160.0,"l":157.1},{"t":"2023-463","u":164.8,"m":161.7,"l":158.6},{"t":"2023-480","u":164.7,"m":161.4,"l":158.1},{"t":"2023-495","u":164.9,"m":161.6,"l":158.2},{"t":"2023-510","u":166.4,"m":163.1,"l":159.7},{"t":"2023-526","u":166.7,"m":163.6,"l":160.5},{"t":"2023-541","u":166.7,"m":163.7,"l":160.7},{"t":"2023-556","u":167.1,"m":164.1,"l":161.1},{"t":"2023-572","u":169.0,"m":165.5,"l":161.9},{"t":"2023-590","u":169.6,"m":165.9,"l":162.1},{"t":"2023-606","u":171.9,"m":168.4,"l":164.9},{"t":"2023-621","u":174.1,"m":170.6,"l":167.1},{"t":"2023-636","u":176.4,"m":172.9,"l":169.4},{"t":"2023-651","u":178.0,"m":174.7,"l":171.3},{"t":"2023-667","u":179.3,"m":175.9,"l":172.5},{"t":"2023-682","u":180.5,"m":176.9,"l":173.2},{"t":"2023-697","u":182.1,"m":178.6,"l":175.1},{"t":"2023-711","u":183.4,"m":180.1,"l":176.7},{"t":"2023-723","u":183.2,"m":179.6,"l":175.9},{"t":"2023-738","u":182.4,"m":178.8,"l":175.1},{"t":"2023-748","u":182.2,"m":178.5,"l":174.8},{"t":"2023-764","u":182.6,"m":179.0,"l":175.4},{"t":"2023-779","u":183.0,"m":179.6,"l":176.1},{"t":"2023-790","u":183.4,"m":179.6,"l":175.7},{"t":"2023-805","u":182.3,"m":177.9,"l":173.5},{"t":"2023-823","u":180.8,"m":176.5,"l":172.2},{"t":"2023-831","u":179.2,"m":174.1,"l":169.0},{"t":"2023-836","u":178.3,"m":173.0,"l":167.6},{"t":"2023-847","u":177.0,"m":171.1,"l":165.2},{"t":"2023-860","u":176.87,"m":171.05,"l":165.22}
]},
 "layer":[
  {"mark":{"type":"line","color":"#1c1c8e","strokeWidth":1.2},"encoding":{"x":{"field":"t","type":"temporal"},"y":{"field":"u","type":"quantitative"}}},
  {"mark":{"type":"line","color":"#1c1c8e","strokeWidth":1.2},"encoding":{"x":{"field":"t","type":"temporal"},"y":{"field":"l","type":"quantitative"}}},
  {"mark":{"type":"line","color":"#1c1c8e","strokeWidth":1,"strokeDash":[2,2]},"encoding":{"x":{"field":"t","type":"temporal"},"y":{"field":"m","type":"quantitative"}}}
 ]},
{"mark":{"type":"line","color":"#111","strokeWidth":2},
 "encoding":{
  "x":{"field":"t","type":"temporal","scale":{"domain":[{"year":2023,"month":2,"date":3,"hours":16,"minutes":48},{"year":2025,"month":5,"date":18,"hours":14,"minutes":24}]},
   "axis":{"orient":"bottom","title":null,"ticks":false,"domain":false,"labelPadding":2,"tickCount":{"interval":"month","step":1},"labelExpr":"month(datum.value)==0 ? timeFormat(datum.value,'%Y') : timeFormat(datum.value,'%b')","labelFontWeight":{"condition":{"test":"month(datum.value)==0","value":"bold"},"value":"normal"},"labelOverlap":false,"labelFlush":false,"labelBound":false}},
  "y":{"field":"v","type":"quantitative","scale":{"domain":[132.1,188.8],"nice":false,"zero":false},
   "axis":{"orient":"right","title":null,"values":[135,140,145,150,155,160,165,170,175,180,185],"tickCount":40,"labelOverlap":false,"labelBound":false,"labelFlush":false,"tickSize":3,"labelPadding":1,"domain":false}}}},
{"data":{"format":{"parse":{"t":"date:'%Y-%j'","t2":"date:'%Y-%j'"}},"values":[{"t":"2023-64","t2":"2023-124","v":179.44,"v2":174.85},{"t":"2023-61","t2":"2023-262","v":172.93,"v2":165.65},{"t":"2023-272","t2":"2023-330","v":185.96,"v2":181.36},{"t":"2023-465","t2":"2023-522","v":184.04,"v2":179.83},{"t":"2023-723","t2":"2023-785","v":188.45,"v2":184.23},{"t":"2023-811","t2":"2023-870","v":148.22,"v2":144.0}]},
 "layer":[
  {"mark":{"type":"rect","fill":"#b9bdc5","xOffset":3,"x2Offset":3,"yOffset":3,"y2Offset":3},
   "encoding":{"x":{"field":"t","type":"temporal"},"x2":{"field":"t2"},"y":{"field":"v","type":"quantitative"},"y2":{"field":"v2"}}},
  {"mark":{"type":"rect","fill":"#ffffff","stroke":"#8c8c8c","strokeWidth":1},
   "encoding":{"x":{"field":"t","type":"temporal"},"x2":{"field":"t2"},"y":{"field":"v","type":"quantitative"},"y2":{"field":"v2"}}}
 ]},
{"data":{"format":{"parse":{"t":"date:'%Y-%j'"}},"values":[{"t":"2023-66","v":177.3,"s":"31 Mar 23"},{"t":"2023-63","v":170.77,"s":"Blue dashed lines (cross above 70%"},{"t":"2023-63","v":167.7,"s":"after becoming oversold <10%)"},{"t":"2023-274","v":183.85,"s":"3 Nov 23"},{"t":"2023-467","v":182.07,"s":"9 May 24"},{"t":"2023-725","v":186.4,"s":"17 Jan 25"},{"t":"2023-813","v":146.1,"s":"29 Apr 25"}]},
 "mark":{"type":"text","fontSize":14.5,"fontWeight":"bold","color":"#0000ff","align":"left","baseline":"middle"},
 "encoding":{"x":{"field":"t","type":"temporal"},"y":{"field":"v","type":"quantitative"},"text":{"field":"s"}}},
{"data":{"format":{"parse":{"t":"date:'%Y-%j'","t2":"date:'%Y-%j'"}},"values":[{"t":"2023-38","t2":"2023-44","v":187.5}]},
 "mark":{"type":"rule","color":"#111","strokeWidth":2.5},
 "encoding":{"x":{"field":"t","type":"temporal"},"x2":{"field":"t2"},"y":{"field":"v","type":"quantitative"}}},
{"data":{"format":{"parse":{"t":"date:'%Y-%j'","t2":"date:'%Y-%j'"}},"values":[{"t":"2023-38","t2":"2023-44","v":185.25}]},
 "mark":{"type":"rule","color":"#1c1c8e","strokeWidth":2.5},
 "encoding":{"x":{"field":"t","type":"temporal"},"x2":{"field":"t2"},"y":{"field":"v","type":"quantitative"}}},
{"data":{"format":{"parse":{"t":"date:'%Y-%j'"}},"values":[{"t":"2023-49","v":187.5,"s":"_RSP 171.17"}]},
 "mark":{"type":"text","fontSize":11,"color":"#111","align":"left","baseline":"middle"},
 "encoding":{"x":{"field":"t","type":"temporal"},"y":{"field":"v","type":"quantitative"},"text":{"field":"s"}}},
{"data":{"format":{"parse":{"t":"date:'%Y-%j'"}},"values":[{"t":"2023-45","v":185.25,"s":"KELT(65,2.0,65) 165.22 - 171.05 - 176.87"}]},
 "mark":{"type":"text","fontSize":9.5,"color":"#1c1c8e","align":"left","baseline":"middle"},
 "encoding":{"x":{"field":"t","type":"temporal"},"y":{"field":"v","type":"quantitative"},"text":{"field":"s"}}}
]}
]}
